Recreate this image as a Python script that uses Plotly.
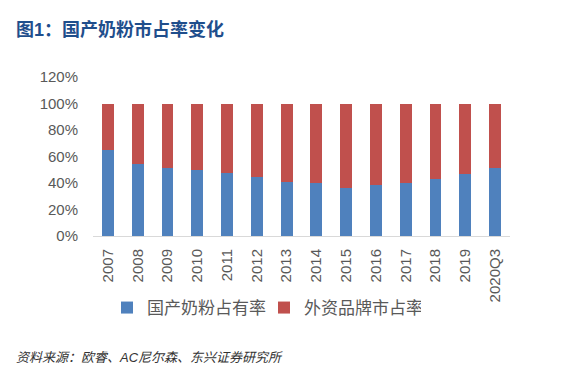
import plotly.graph_objects as go

categories = ["2007", "2008", "2009", "2010", "2011", "2012", "2013", "2014",
              "2015", "2016", "2017", "2018", "2019", "2020Q3"]
domestic = [64.6, 54.4, 51.0, 49.8, 47.5, 44.5, 40.7, 40.0, 36.2, 38.5, 40.0, 43.0, 46.5, 51.0]
foreign = [round(100 - v, 1) for v in domestic]
tick_vals = [0, 20, 40, 60, 80, 100, 120]
tick_text = ["0%", "20%", "40%", "60%", "80%", "100%", "120%"]

W, H = 588, 385
L, R, T, B = 93, 78, 77, 149
pw, ph = W - L - R, H - T - B

def px_x(x):
    return (x - L) / pw

def px_y(y):
    return (H - B - y) / ph

FONT = "Liberation Sans, Arial, Noto Sans CJK SC, sans-serif"

fig = go.Figure()
fig.add_trace(go.Bar(x=categories, y=domestic, name="国产奶粉占有率",
                     marker=dict(color="#4F81BD", line=dict(width=0))))
fig.add_trace(go.Bar(x=categories, y=foreign, name="外资品牌市占率",
                     marker=dict(color="#C0504D", line=dict(width=0))))

fig.update_layout(
    width=W, height=H,
    margin=dict(l=L, r=R, t=T, b=B, pad=0, autoexpand=False),
    barmode="stack", bargap=0.6,
    plot_bgcolor="white", paper_bgcolor="white",
    font=dict(family=FONT, color="#595959"),
    showlegend=True,
    legend=dict(orientation="h", x=px_x(107), xanchor="left",
                y=px_y(308), yanchor="middle",
                font=dict(size=17, color="#595959", family=FONT),
                entrywidth=112, entrywidthmode="pixels",
                bgcolor="rgba(0,0,0,0)", traceorder="normal"),
    xaxis=dict(type="category", tickangle=-90, tickfont=dict(size=15, color="#595959"),
               showline=True, linecolor="#D9D9D9", linewidth=1, ticks="",
               ticklabelstandoff=6, automargin=False,
               showgrid=False, fixedrange=True),
    yaxis=dict(range=[0, 120], tickvals=tick_vals, ticktext=tick_text,
               tickfont=dict(size=15, color="#595959"), showgrid=False,
               ticklabelstandoff=14, automargin=False,
               showline=False, zeroline=False, ticks="", fixedrange=True),
    annotations=[
        dict(text="<b>图1：国产奶粉市占率变化</b>", xref="paper", yref="paper",
             x=px_x(14), y=px_y(29), xanchor="left", yanchor="middle",
             showarrow=False, font=dict(size=18, color="#1F4E8C", family=FONT)),
        dict(text="<i>资料来源：欧睿、AC尼尔森、东兴证券研究所</i>", xref="paper", yref="paper",
             x=px_x(14), y=px_y(357), xanchor="left", yanchor="middle",
             showarrow=False, font=dict(size=13, color="#333333", family=FONT)),
    ],
)

fig.write_html("out.html", config={"displayModeBar": False},
               post_script="document.body.style.margin='0';")
